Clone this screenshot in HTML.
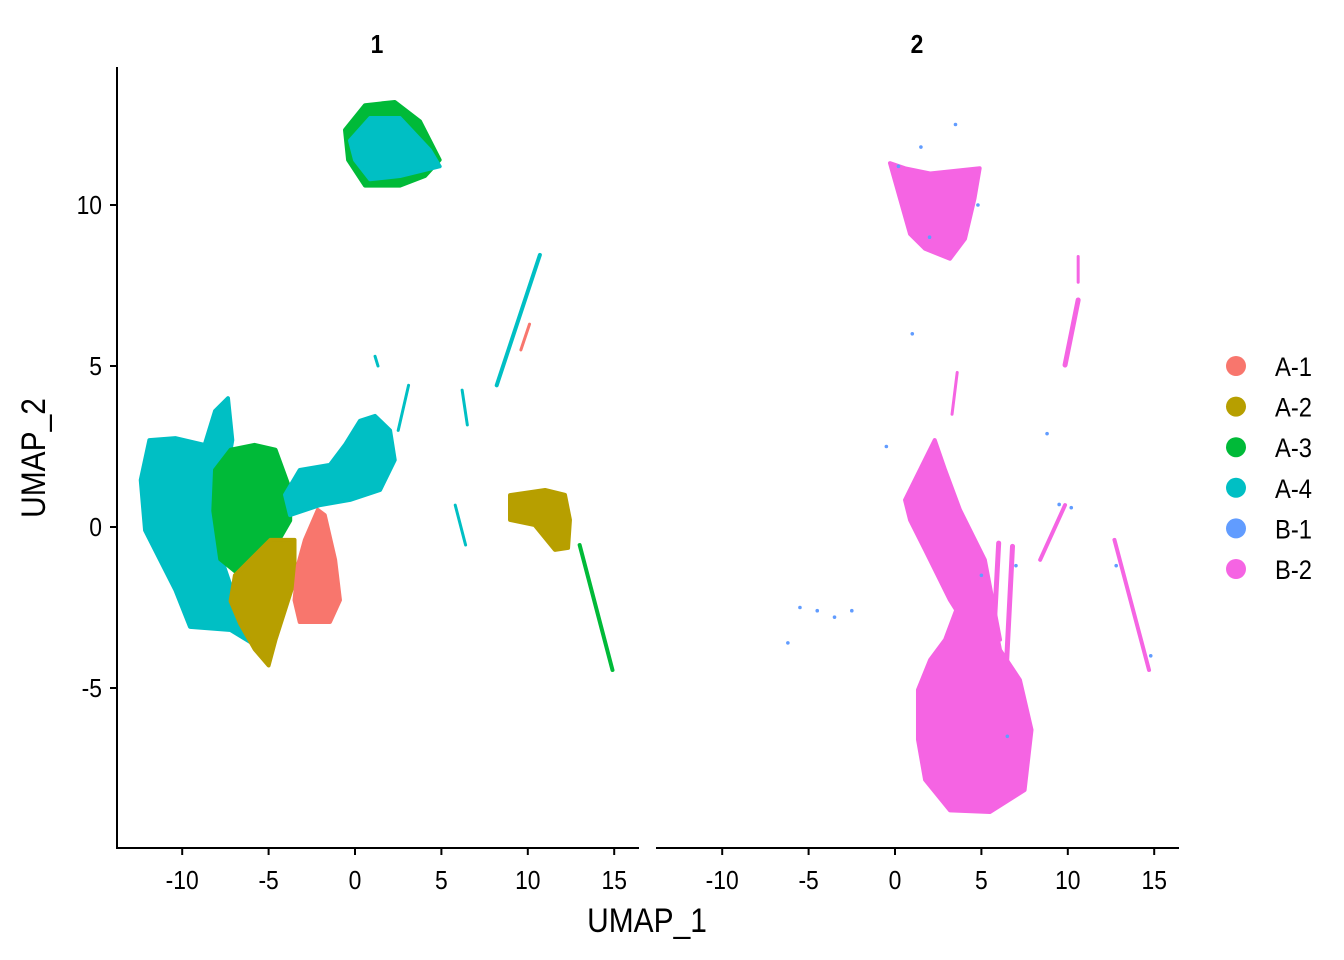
<!DOCTYPE html>
<html><head><meta charset="utf-8"><style>
html,body{margin:0;padding:0;background:#fff;}
svg{display:block;font-family:"Liberation Sans",sans-serif;}
</style></head><body>
<svg id="c" width="1344" height="960" viewBox="0 0 1344 960"></svg>
<script>
const groups=["A-1","A-2","A-3","A-4","B-1","B-2"];
const colors=["#F8766D","#B79F00","#00BA38","#00BFC4","#619CFF","#F564E3"];
const xTicks=[-10,-5,0,5,10,15];
const yTicks=[-5,0,5,10];
const panelTitles=["1","2"];
const blobPanel=[0,0,0,0,0,0,0,0,1,1,1];
const blobGroup=[3,2,1,0,3,2,3,1,5,5,5];
const blobPts=[
 [[-12.4,1.46],[-11.9,2.7],[-10.4,2.76],[-8.7,2.55],[-8.1,3.6],[-7.35,4.0],[-7.1,2.7],[-8.1,-0.4],[-6.9,-2.3],[-5.8,-3.66],[-7.2,-3.2],[-9.55,-3.1],[-10.4,-1.95],[-12.15,-0.1]],
 [[-8.1,1.77],[-7.2,2.4],[-5.8,2.55],[-4.6,2.4],[-3.75,1.15],[-3.75,0.2],[-4.9,-0.87],[-6.65,-1.5],[-7.8,-1.0],[-8.2,0.5]],
 [[-6.95,-1.5],[-4.9,-0.4],[-3.5,-0.4],[-3.5,-1.65],[-4.05,-2.58],[-4.6,-3.5],[-5.0,-4.3],[-5.8,-3.8],[-6.65,-3.0],[-7.2,-2.3]],
 [[-2.9,-0.4],[-2.15,0.53],[-1.75,0.37],[-1.15,-1.02],[-0.87,-2.27],[-1.45,-2.95],[-3.2,-2.95],[-3.5,-2.27],[-3.3,-1.18]],
 [[-4.05,1.0],[-3.2,1.77],[-1.45,1.93],[-0.58,2.55],[0.29,3.3],[1.16,3.45],[2.03,3.0],[2.3,2.08],[1.45,1.15],[-0.29,0.84],[-2.03,0.68],[-3.76,0.37]],
 [[-0.58,12.33],[0.58,13.1],[2.3,13.2],[3.76,12.6],[4.9,11.4],[4.05,10.9],[2.6,10.6],[0.58,10.6],[-0.4,11.4]],
 [[-0.29,12.0],[0.87,12.7],[2.6,12.7],[4.34,11.7],[4.9,11.2],[2.6,10.9],[0.87,10.8],[0,11.4]],
 [[8.97,0.99],[11.0,1.15],[12.15,1.0],[12.44,0.22],[12.33,-0.65],[11.57,-0.71],[10.4,0.06],[8.97,0.22]],
 [[-0.29,11.3],[0.58,11.14],[2.03,10.98],[4.9,11.14],[4.6,10.2],[4.05,8.95],[3.18,8.33],[1.74,8.64],[0.87,9.1],[0.29,10.2]],
 [[1.33,-5.06],[2.03,-4.13],[2.9,-3.5],[3.76,-2.27],[4.63,-1.02],[5.5,-2.27],[6.08,-3.82],[7.23,-4.75],[7.9,-6.3],[7.5,-8.17],[5.5,-8.85],[3.18,-8.8],[1.74,-7.85],[1.33,-6.6]],
 [[0.58,0.84],[2.3,2.7],[2.9,1.77],[3.76,0.53],[5.2,-1.02],[6.08,-3.5],[4.63,-3.5],[3.18,-2.27],[1.74,-0.71],[0.87,0.22]]
];
const streakPanel=[0,0,0,0,0,0,0,1,1,1,1,1,1,1];
const streakGroup=[3,0,2,3,3,3,3,5,5,5,5,5,5,5];
const streakCoords=[
 [8.2,4.4,10.7,8.45],[9.6,5.5,10.1,6.3],[13.0,-0.56,14.9,-4.44],[5.8,0.68,6.4,-0.56],[6.2,4.25,6.5,3.17],[1.16,5.3,1.33,5.0],[2.5,3.0,3.1,4.4],
 [6.0,-0.5,5.7,-3.5],[6.8,-0.6,6.4,-4.8],[8.4,-1.02,9.84,0.68],[9.84,5.03,10.6,7.05],[10.6,7.6,10.6,8.4],[12.7,-0.4,14.7,-4.44],[3.3,3.5,3.6,4.8]
];
const streakWidth=[4,3,4,3,3,3,3,5,5,4,5,3,4,3];
const b1x=[-5.5,-4.5,-3.5,-2.5,-6.2,0.2,1.5,3.5,5.0,7.0,8.8,10.2,12.8,14.8,-0.5,2.0,4.8,6.5,1.0,9.5];
const b1y=[-2.5,-2.6,-2.8,-2.6,-3.6,11.2,11.8,12.5,-1.5,-1.2,2.9,0.6,-1.2,-4.0,2.5,9.0,10.0,-6.5,6.0,0.7];

const NS="http://www.w3.org/2000/svg";
const svg=document.getElementById('c');
function el(t,a,p){const e=document.createElementNS(NS,t);for(const k in a)e.setAttribute(k,a[k]);(p||svg).appendChild(e);return e;}
function txt(x,y,s,size,anchor,extra){
 const g=el('g',{transform:'translate('+x+','+y+') scale(0.88,1)'});
 const t=el('text',Object.assign({x:0,y:0,'text-anchor':anchor,'font-size':size,fill:'#000'},extra||{}),g);
 t.textContent=s;return t;
}
const x0=[355,895], xs=17.28;
function sx(p,v){return x0[p]+v*xs;}
function sy(v){return 527-v*32.2;}

const plot=el('g',{});


blobPts.forEach((pts,i)=>{
 const p=blobPanel[i],g=blobGroup[i];
 const e=el('polygon',{points:pts.map(q=>sx(p,q[0])+','+sy(q[1])).join(' '),fill:colors[g],stroke:colors[g],'stroke-width':4,'stroke-linejoin':'round'},plot);
 
 
});
streakCoords.forEach((c,i)=>{
 const p=streakPanel[i],g=streakGroup[i];
 const e=el('line',{x1:sx(p,c[0]),y1:sy(c[1]),x2:sx(p,c[2]),y2:sy(c[3]),stroke:colors[g],'stroke-width':streakWidth[i],'stroke-linecap':'round'},plot);
 
 
});
b1x.forEach((v,i)=>{
 const e=el('circle',{cx:sx(1,v),cy:sy(b1y[i]),r:1.8,fill:colors[4]},plot);
 
 
});

const ax=el('g',{stroke:'#000','stroke-width':2,fill:'none'});


el('line',{x1:117,y1:67,x2:117,y2:849},ax);
el('line',{x1:116,y1:848,x2:639,y2:848},ax);
el('line',{x1:656,y1:848,x2:1179,y2:848},ax);
yTicks.forEach(v=>{
 el('line',{x1:110,y1:sy(v),x2:117,y2:sy(v)},ax);
 const t=txt(102,sy(v)+9,String(v),26,'end');
 
 
});
[0,1].forEach(p=>{
 xTicks.forEach(v=>{
  el('line',{x1:sx(p,v),y1:848,x2:sx(p,v),y2:855},ax);
  const t=txt(sx(p,v),889,String(v),26,'middle');
  
  
 });
 const tt=txt([377,917][p],53,panelTitles[p],26,'middle',{'font-weight':'bold'});
 
 
});
const xt=txt(647,932,'UMAP_1',34,'middle');


const yg=el('g',{transform:'translate(45,458) rotate(-90) scale(0.88,1)'});
const yt=el('text',{x:0,y:0,'text-anchor':'middle','font-size':34,fill:'#000'},yg);
yt.textContent='UMAP_2';



groups.forEach((g,i)=>{
 const y=366+i*40.6;
 const c=el('circle',{cx:1236,cy:y,r:10,fill:colors[i]});
 
 
 const t=txt(1275,y+10,g,27,'start');
 
 
});
</script>
</body></html>
